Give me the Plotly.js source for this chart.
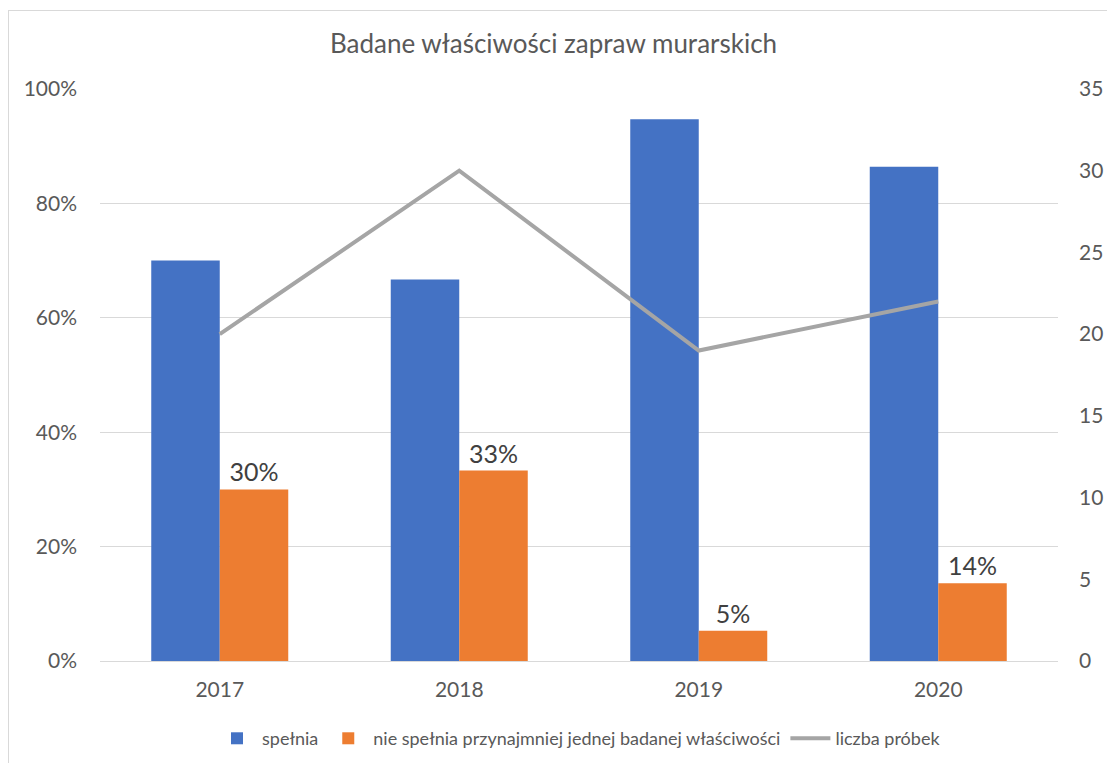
<!DOCTYPE html>
<html>
<head>
<meta charset="utf-8">
<script src="https://cdn.plot.ly/plotly-3.0.1.min.js"></script>
<style>
html,body{margin:0;padding:0;background:#fff;}
#wrap{position:relative;width:1107px;height:763px;overflow:hidden;}
#chart{position:absolute;left:0;top:0;width:1107px;height:763px;}
#border{position:absolute;left:8px;top:10px;width:1200px;height:800px;border:1px solid #d9d9d9;pointer-events:none;}
</style>
</head>
<body>
<div id="wrap"><div id="chart"></div><div id="border"></div></div>
<script>
const years = ['2017', '2018', '2019', '2020'];
const spelnia = [0.70, 0.667, 0.947, 0.864];
const nieSpelnia = [0.30, 0.333, 0.053, 0.136];
const liczbaProbek = [20, 30, 19, 22];
const nieSpelniaLabels = ['30%', '33%', '5%', '14%'];

const font = 'Lato, "Open Sans", sans-serif';

const traces = [
  {
    type: 'bar', name: 'spełnia', x: years, y: spelnia,
    marker: {color: '#4472C4'}, hoverinfo: 'skip'
  },
  {
    type: 'bar', name: 'nie spełnia przynajmniej jednej badanej właściwości', x: years, y: nieSpelnia,
    marker: {color: '#ED7D31'}, text: nieSpelniaLabels, textposition: 'outside',
    textfont: {size: 25, color: '#404040', family: font}, cliponaxis: false, hoverinfo: 'skip'
  },
  {
    type: 'scatter', mode: 'lines', name: 'liczba próbek', x: years, y: liczbaProbek,
    yaxis: 'y2', line: {color: '#A5A5A5', width: 4}, hoverinfo: 'skip'
  }
];

const layout = {
  width: 1107, height: 763,
  margin: {l: 100, r: 49, t: 89, b: 102},
  paper_bgcolor: '#fff', plot_bgcolor: '#fff',
  font: {family: font, color: '#595959', size: 21},
  title: {text: 'Badane właściwości zapraw murarskich', font: {size: 26, color: '#595959', family: font}, x: 0.5, xanchor: 'center', y: 0.943, yanchor: 'middle'},
  barmode: 'group', bargap: 0.428, bargroupgap: 0,
  showlegend: true,
  legend: {orientation: 'h', x: 0.5, xanchor: 'center', yref: 'container', y: 0.032, yanchor: 'middle', font: {size: 18, color: '#595959'}, itemwidth: 40, traceorder: 'normal'},
  xaxis: {type: 'category', showgrid: false, showline: false, zeroline: false, ticks: '', tickfont: {size: 21}, ticklabelstandoff: 14},
  yaxis: {range: [0, 1], tickvals: [0, 0.2, 0.4, 0.6, 0.8, 1], ticktext: ['0%', '20%', '40%', '60%', '80%', '100%'], gridcolor: '#d9d9d9', gridwidth: 1, zeroline: true, zerolinecolor: '#d9d9d9', showline: false, ticks: '', tickfont: {size: 21}, ticklabelstandoff: 22},
  yaxis2: {overlaying: 'y', side: 'right', range: [0, 35], dtick: 5, showgrid: false, zeroline: false, showline: false, ticks: '', tickfont: {size: 21}, ticklabelstandoff: 20}
};

Plotly.newPlot('chart', traces, layout, {displayModeBar: false, staticPlot: true});
</script>
</body>
</html>
